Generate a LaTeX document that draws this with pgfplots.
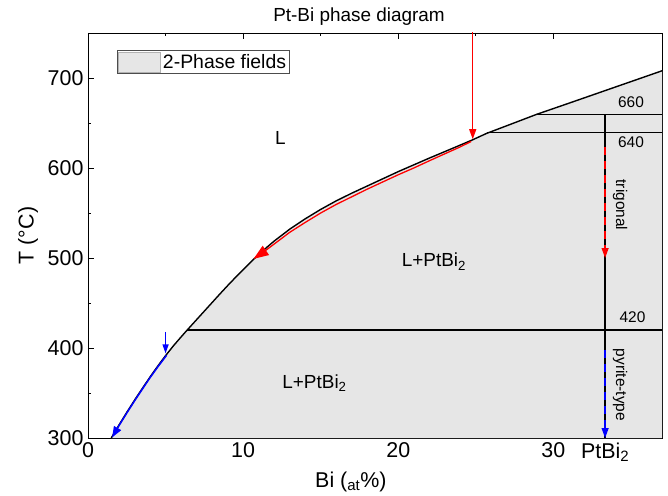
\documentclass[border=0pt]{standalone}
\usepackage{fontspec}
\setmainfont{Liberation Sans}
\usepackage{pgfplots}
\pgfplotsset{compat=1.18}
\usetikzlibrary{arrows.meta}
\definecolor{fillgray}{RGB}{230,230,230}
\pgfplotstableread{
x T
1.5 300
2.0 314.5
2.5 328.5
3.0 342
3.5 355
4.0 367.8
4.5 380
5.0 391.5
5.5 402.3
6.0 412.3
6.37 419.5
7.0 431.5
7.5 441
8.0 450.5
8.5 460
9.0 469.3
9.5 478.3
10.0 487
10.67 498.5
11.5 511.5
12.0 518.8
13.0 532
14.0 543.5
15.0 554
16.0 563.5
17.0 572
18.0 580
19.0 588
20.0 596
21.0 603.5
22.0 611
22.9 617.5
24.0 625.5
24.75 631
25.7 638.5
27.0 647
28.9 659.5
31.0 672
33.333 686
37.0 708
}\liquidus
\pgfplotstableread{
x T
1.5 300
2.0 314.5
2.5 328.5
3.0 342
3.5 355
4.0 367.8
4.5 380
5.0 391.5
5.5 402.3
6.0 412.3
6.37 419.5
7.0 431.5
7.5 441
8.0 450.5
8.5 460
9.0 469.3
9.5 478.3
10.0 487
10.67 498.5
11.5 511.5
12.0 518.8
13.0 532
14.0 543.5
15.0 554
16.0 563.5
17.0 572
18.0 580
19.0 588
20.0 596
21.0 603.5
22.0 611
22.9 617.5
24.0 625.5
24.75 631
25.7 638.5
27.0 647
28.9 659.5
31.0 672
33.333 686
37.0 708
37.0 300
}\fieldtable
\begin{document}
\begin{tikzpicture}
\useasboundingbox (-88bp,-58bp) rectangle (580bp,438bp);
\begin{axis}[
  at={(0,0)}, anchor=south west,
  scale only axis, width=574bp, height=405bp,
  xmin=0, xmax=37, ymin=300, ymax=750,
  xtick={0,10,20,30}, ytick={300,400,500,600,700},
  minor x tick num=1, minor y tick num=1,
  extra x ticks={33.333}, extra x tick labels={PtBi\textsubscript{2}},
  extra x tick style={major tick length=0pt},
  tick align=inside,
  major tick length=6bp, minor tick length=3.5bp,
  every tick/.style={black, line width=0.8pt},
  axis line style={line width=1pt},
  /pgf/number format/assume math mode=true,
  every tick label/.append style={font=\fontsize{21.5}{24}\selectfont},
  yticklabel style={xshift=-1bp},
  xticklabel style={yshift=-1bp},
  xlabel={Bi (\textsubscript{at}\%)},
  xlabel style={font=\fontsize{21.5}{24}\selectfont, at={(axis description cs:0.458,-0.121)}, anchor=base},
  ylabel={T (°C)},
  ylabel style={font=\fontsize{21.5}{24}\selectfont, at={(axis description cs:-0.1045,0.5)}, anchor=center},
  legend style={at={(axis description cs:0.05,0.958)}, anchor=north west,
    draw=black!70, line width=0.6pt, font=\fontsize{19.5}{22}\selectfont, inner sep=1.2bp,
    legend cell align=left},
  legend image code/.code={\draw[fill=fillgray, draw=black!30, line width=0.8pt] (0bp,-10bp) rectangle (42bp,10bp);},
]
% two-phase fill
\addplot[fill=fillgray, draw=none] table[x=x, y=T] {\fieldtable} -- cycle;
\addlegendentry{2-Phase fields}
% liquidus
\addplot[black, line width=1.4pt, forget plot, line join=round] table[x=x, y=T] {\liquidus};
% isotherms
\addplot[black, line width=1.4pt, forget plot] coordinates {(6.37,420) (37,420)};
\addplot[black, line width=1.4pt, forget plot] coordinates {(25.7,639.5) (37,639.5)};
\addplot[black, line width=1.4pt, forget plot] coordinates {(28.9,659.5) (37,659.5)};
\addplot[black, line width=1.4pt, forget plot] coordinates {(33.333,659.5) (33.333,300)};
% red arrows
\addplot[red, line width=1.3pt, forget plot, -{Triangle[length=10bp,width=7bp]}] coordinates {(24.8,751) (24.8,632)};
\addplot[red, line width=1.3pt, forget plot, line join=round, -{Triangle[length=15bp,width=11bp]}] coordinates {
(24.7,629.5) (24.0,623.5) (22.9,615) (22.0,608) (21.0,600) (20.0,592.5) (19.0,584.5)
(18.0,576.5) (17.0,568) (16.0,559.5) (15.0,550) (14.0,539.5) (13.0,528.5) (12.0,515.5)
(11.3,506.5) (10.67,499)};
\addplot[red, line width=1.3pt, dash pattern=on 8bp off 6bp, forget plot, -{Triangle[length=10bp,width=7bp]}] coordinates {(33.333,623) (33.333,500)};
% blue arrows
\addplot[blue, line width=1.3pt, forget plot, -{Triangle[length=9bp,width=6bp]}] coordinates {(5.0,418) (5.0,394)};
\addplot[blue, line width=1.5pt, forget plot, line join=round, -{Triangle[length=11bp,width=8bp]}] coordinates {
(5.07,392) (4.5,379) (4.0,367) (3.5,354.2) (3.0,341.2) (2.5,327.7) (2.0,313.8) (1.55,300.5)};
\addplot[blue, line width=1.3pt, dash pattern=on 8bp off 6bp, forget plot, -{Triangle[length=10bp,width=7bp]}] coordinates {(33.333,398) (33.333,300)};
% labels
\node[font=\fontsize{19}{22}\selectfont] at (axis cs:12.4,633) {L};
\node[font=\fontsize{19}{22}\selectfont] at (axis cs:22.3,496) {L+PtBi\textsubscript{2}};
\node[font=\fontsize{19}{22}\selectfont] at (axis cs:14.6,361) {L+PtBi\textsubscript{2}};
\node[font=\fontsize{15.5}{18}\selectfont] at (axis cs:35.0,673) {660};
\node[font=\fontsize{15.5}{18}\selectfont] at (axis cs:35.0,629) {640};
\node[font=\fontsize{15.5}{18}\selectfont] at (axis cs:35.1,434) {420};
\node[font=\fontsize{15.5}{18}\selectfont, rotate=-90] at (axis cs:34.3,559) {trigonal};
\node[font=\fontsize{15.5}{18}\selectfont, rotate=-90] at (axis cs:34.3,359) {pyrite-type};
\end{axis}
\node[font=\fontsize{19}{22}\selectfont, anchor=base] at (271bp,416bp) {Pt-Bi phase diagram};
\end{tikzpicture}
\end{document}
